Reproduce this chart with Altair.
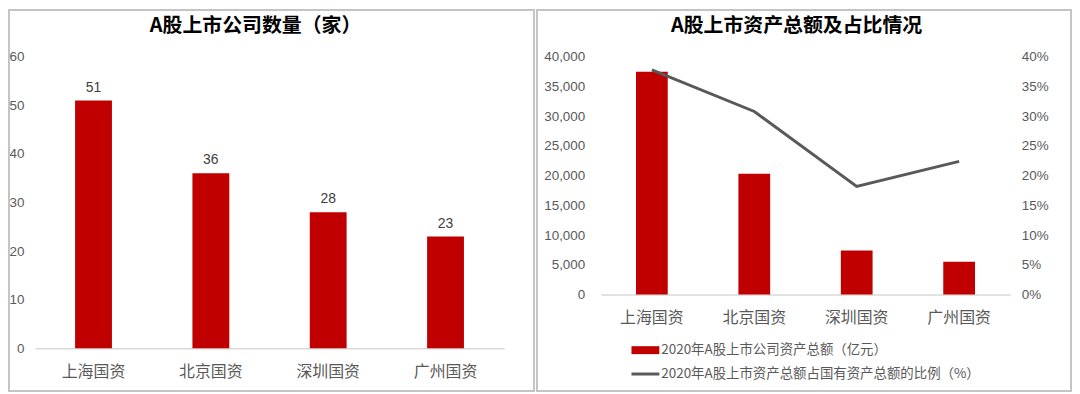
import altair as alt
import pandas as pd

regions = ["上海国资", "北京国资", "深圳国资", "广州国资"]
counts = [51, 36, 28, 23]
assets = [37500, 20300, 7400, 5500]
ratios = [0.378, 0.308, 0.182, 0.224]

title_left = "A股上市公司数量（家）"
title_right = "A股上市资产总额及占比情况"
legend_bar = "2020年A股上市公司资产总额（亿元）"
legend_line = "2020年A股上市资产总额占国有资产总额的比例（%）"

RED = "#c00000"
GRAY_LINE = "#595959"
LABEL = "#595959"
BORDER = "#c4c4c4"
AXIS_LINE = "#d9d9d9"
CJK = "Noto Sans CJK SC"
NUM = "Liberation Sans"

df_left = pd.DataFrame({"region": regions, "count": counts})
df_right = pd.DataFrame({"region": regions, "assets": assets, "ratio": ratios})
one = pd.DataFrame({"k": [0]})

LW, LH = 472, 293
RW, RH = 412, 239


def x_enc(pi):
    return alt.X(
        "region:N", sort=regions, title=None,
        scale=alt.Scale(paddingInner=pi, paddingOuter=pi / 2),
        axis=alt.Axis(labelAngle=0, labelFont=CJK, labelFontSize=16, labelColor=LABEL,
                      labelPadding=15, ticks=False, domainColor=AXIS_LINE, domainWidth=1.5),
    )


# ---------- left panel ----------
left_bars = alt.Chart(df_left).mark_bar(color=RED).encode(
    x=x_enc(0.686),
    y=alt.Y("count:Q", title=None, scale=alt.Scale(domain=[0, 60]),
            axis=alt.Axis(values=[0, 10, 20, 30, 40, 50, 60], domain=False, ticks=False, grid=False,
                          labelFont=NUM, labelFontSize=13.5, labelColor=LABEL, labelPadding=11)),
)
left_text = alt.Chart(df_left).mark_text(baseline="bottom", dy=-6, font=NUM, fontSize=14, color="#404040").encode(
    x=alt.X("region:N", sort=regions), y=alt.Y("count:Q"), text="count:Q"
)
left_title = alt.Chart(one).mark_text(font=CJK, fontSize=20, fontWeight="bold", color="#000000").encode(
    x=alt.value(222), y=alt.value(-31), text=alt.value(title_left)
)
left_border = alt.Chart(one).mark_rect(fillOpacity=0, stroke=BORDER, strokeWidth=2).encode(
    x=alt.value(-26), x2=alt.value(502), y=alt.value(-47), y2=alt.value(336)
)
left = alt.layer(left_border, left_title, left_bars, left_text).properties(width=LW, height=LH)

# ---------- right panel ----------
right_bars = alt.Chart(df_right).mark_bar(color=RED).encode(
    x=x_enc(0.69),
    y=alt.Y("assets:Q", title=None, scale=alt.Scale(domain=[0, 40000]),
            axis=alt.Axis(values=list(range(0, 40001, 5000)), format=",.0f", orient="left", domain=False,
                          ticks=False, grid=False, labelFont=NUM, labelFontSize=13.5, labelColor=LABEL,
                          labelPadding=16)),
)
right_line = alt.Chart(df_right).mark_line(color=GRAY_LINE, strokeWidth=3).encode(
    x=alt.X("region:N", sort=regions),
    y=alt.Y("ratio:Q", title=None, scale=alt.Scale(domain=[0, 0.4]),
            axis=alt.Axis(values=[0, 0.05, 0.1, 0.15, 0.2, 0.25, 0.3, 0.35, 0.4], format=".0%",
                          orient="right", domain=False, ticks=False, grid=False, labelFont=NUM,
                          labelFontSize=13.5, labelColor=LABEL, labelPadding=11)),
)
right_title = alt.Chart(one).mark_text(font=CJK, fontSize=20, fontWeight="bold", color="#000000").encode(
    x=alt.value(197), y=alt.value(-31), text=alt.value(title_right)
)
right_border = alt.Chart(one).mark_rect(fillOpacity=0, stroke=BORDER, strokeWidth=2).encode(
    x=alt.value(-64), x2=alt.value(473), y=alt.value(-47), y2=alt.value(336)
)
leg_rect = alt.Chart(one).mark_rect(color=RED).encode(
    x=alt.value(31), x2=alt.value(59), y=alt.value(291), y2=alt.value(299)
)
leg_rule = alt.Chart(one).mark_rule(color=GRAY_LINE, strokeWidth=3).encode(
    x=alt.value(31), x2=alt.value(59), y=alt.value(319)
)
leg_t1 = alt.Chart(one).mark_text(align="left", baseline="middle", font=CJK, fontSize=13.5, color=LABEL).encode(
    x=alt.value(61), y=alt.value(295), text=alt.value(legend_bar)
)
leg_t2 = alt.Chart(one).mark_text(align="left", baseline="middle", font=CJK, fontSize=13.5, color=LABEL).encode(
    x=alt.value(61), y=alt.value(319), text=alt.value(legend_line)
)

right = alt.layer(
    right_border, right_title, right_bars, right_line, leg_rect, leg_rule, leg_t1, leg_t2
).resolve_scale(y="independent").properties(width=RW, height=RH)

chart = alt.hconcat(left, right, spacing=97, bounds="flush").properties(
    padding=0, background="white"
).configure_view(strokeWidth=0)

chart.save("out.html", embed_options={"renderer": "svg", "actions": False})
